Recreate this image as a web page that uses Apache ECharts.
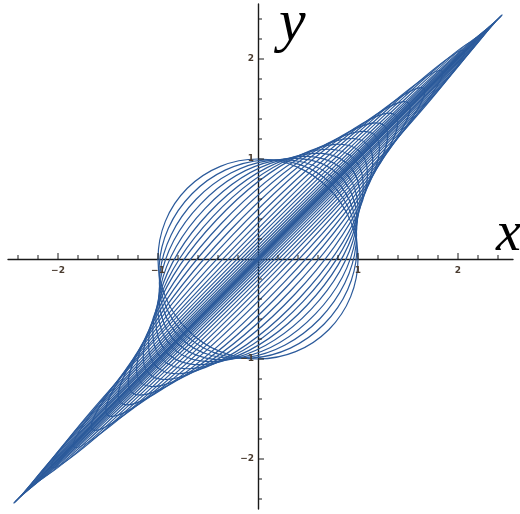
<!DOCTYPE html>
<html>
<head>
<meta charset="utf-8">
<style>
  html, body { margin: 0; padding: 0; background: #fff; }
  #chart { width: 520px; height: 514px; }
</style>
<script src="https://cdn.jsdelivr.net/npm/echarts@6/dist/echarts.min.js"></script>
</head>
<body>
<div id="chart"></div>
<script>
// Family of origin-centred ellipses stretched along the diagonal y = x.
// majorSemiAxes: semi-axis along the long direction; minorSemiAxes: semi-axis across it;
// tiltDeg: direction of the long axis, measured from the x axis.
const majorSemiAxes = [
  1.000, 1.050, 1.105, 1.166, 1.232, 1.306, 1.388, 1.480, 1.584, 1.701,
  1.835, 1.989, 2.168, 2.378, 2.629, 2.931, 3.064, 3.140, 3.207, 3.266,
  3.317, 3.361, 3.397, 3.425, 3.444, 3.456
];
const minorSemiAxes = [
  1.000, 0.928, 0.860, 0.795, 0.732, 0.674, 0.620, 0.570, 0.510, 0.455,
  0.400, 0.350, 0.298, 0.253, 0.213, 0.179, 0.148, 0.120, 0.095, 0.073,
  0.053, 0.037, 0.024, 0.013, 0.006, 0.0015
];
const tiltDeg = [
  45.0, 45.5, 46.0, 46.3, 46.5, 46.7, 46.8, 46.8, 46.7, 46.6,
  46.5, 46.3, 46.0, 45.8, 45.6, 45.3, 45.2, 45.1, 45.0, 45.0,
  45.0, 45.0, 45.0, 45.0, 45.0, 45.0
];

// Axis ticks and their labels
const majorTicks = [-2, -1, 1, 2];
const tickLabels = ['\u22122', '\u22121', '1', '2'];
const minorTicks = [
  -2.4, -2.2, -1.8, -1.6, -1.4, -1.2, -0.8, -0.6, -0.4, -0.2,
  0.2, 0.4, 0.6, 0.8, 1.2, 1.4, 1.6, 1.8, 2.2, 2.4
];

const curveColor = '#2b5a9b';
const axisColor = '#1a1a1a';
const labelColor = '#4a3c30';

const ellipseData = majorSemiAxes.map((a, i) => [a, minorSemiAxes[i], tiltDeg[i]]);

const xTickData = majorTicks.map((v, i) => [v, 0, 1, i])
  .concat(minorTicks.map(v => [v, 0, 0, -1]));
const yTickData = majorTicks.map((v, i) => [0, v, 1, i])
  .concat(minorTicks.map(v => [0, v, 0, -1]));

function renderEllipse(params, api) {
  const c = api.coord([0, 0]);
  const s = api.size([api.value(0), api.value(1)]);
  return {
    type: 'ellipse',
    x: c[0], y: c[1],
    rotation: api.value(2) * Math.PI / 180,
    shape: { cx: 0, cy: 0, rx: s[0], ry: s[1] },
    style: { fill: 'none', stroke: curveColor, lineWidth: 1.2 }
  };
}

function renderXTick(params, api) {
  const p = api.coord([api.value(0), api.value(1)]);
  const major = api.value(2) === 1;
  const len = major ? 6 : 4;
  const children = [{
    type: 'line',
    shape: { x1: p[0], y1: p[1], x2: p[0], y2: p[1] - len },
    style: { stroke: axisColor, lineWidth: 1 }
  }];
  if (major) {
    children.push({
      type: 'text',
      x: p[0], y: p[1] + 7,
      style: {
        text: tickLabels[api.value(3)], fill: labelColor,
        font: 'bold 9px "DejaVu Sans", sans-serif',
        align: 'center', verticalAlign: 'top'
      }
    });
  }
  return { type: 'group', children };
}

function renderYTick(params, api) {
  const p = api.coord([api.value(0), api.value(1)]);
  const major = api.value(2) === 1;
  const len = major ? 6 : 4;
  const children = [{
    type: 'line',
    shape: { x1: p[0], y1: p[1], x2: p[0] + len, y2: p[1] },
    style: { stroke: axisColor, lineWidth: 1 }
  }];
  if (major) {
    children.push({
      type: 'text',
      x: p[0] - 4, y: p[1],
      style: {
        text: tickLabels[api.value(3)], fill: labelColor,
        font: 'bold 9px "DejaVu Sans", sans-serif',
        align: 'right', verticalAlign: 'middle'
      }
    });
  }
  return { type: 'group', children };
}

const chart = echarts.init(document.getElementById('chart'));
chart.setOption({
  animation: false,
  backgroundColor: '#ffffff',
  grid: { left: 8, top: 4, width: 505, height: 505, containLabel: false },
  xAxis: {
    type: 'value', min: -2.5, max: 2.55,
    axisLine: { show: true, onZero: true, lineStyle: { color: axisColor, width: 1.4 } },
    axisTick: { show: false }, axisLabel: { show: false }, splitLine: { show: false }
  },
  yAxis: {
    type: 'value', min: -2.5, max: 2.55,
    axisLine: { show: true, onZero: true, lineStyle: { color: axisColor, width: 1.4 } },
    axisTick: { show: false }, axisLabel: { show: false }, splitLine: { show: false }
  },
  graphic: [
    {
      type: 'text', left: 496, top: 207, z: 10,
      style: { text: 'x', font: 'italic 56px "Liberation Serif", "DejaVu Serif", serif', fill: '#000' }
    },
    {
      type: 'text', left: 279, top: -6, z: 10,
      style: { text: 'y', font: 'italic 60px "Liberation Serif", "DejaVu Serif", serif', fill: '#000' }
    }
  ],
  series: [
    {
      type: 'custom', name: 'ellipses', renderItem: renderEllipse,
      data: ellipseData, clip: true, silent: true, z: 2
    },
    {
      type: 'custom', name: 'xTicks', renderItem: renderXTick,
      data: xTickData, silent: true, z: 3
    },
    {
      type: 'custom', name: 'yTicks', renderItem: renderYTick,
      data: yTickData, silent: true, z: 3
    }
  ]
});
</script>
</body>
</html>
